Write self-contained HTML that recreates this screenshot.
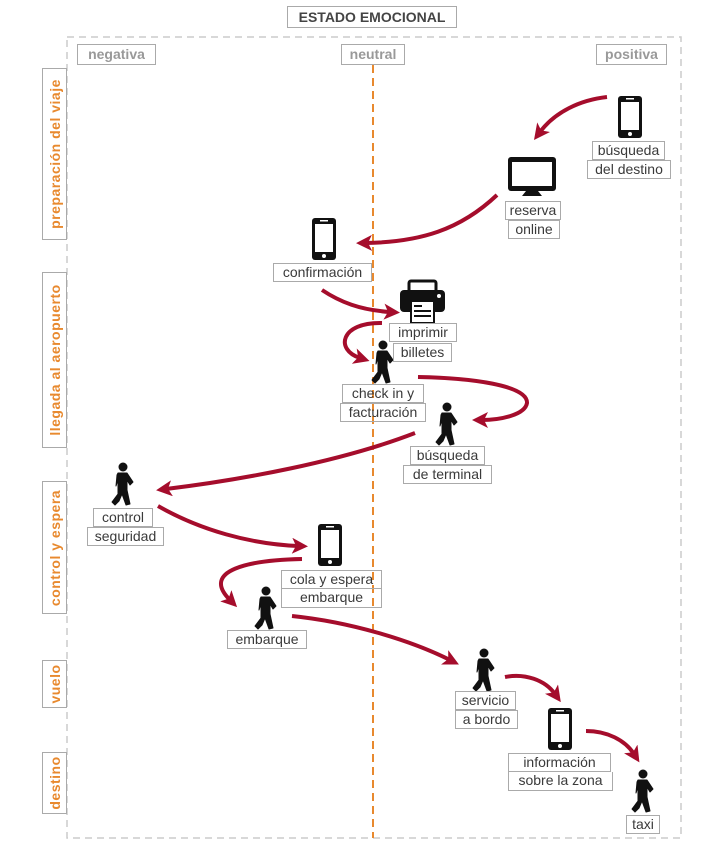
<!DOCTYPE html>
<html><head><meta charset="utf-8"><style>
body{margin:0;background:#fff;width:706px;height:847px;position:relative;overflow:hidden;font-family:"Liberation Sans",sans-serif}
.l{position:absolute;border:1px solid #aaa;color:#3a3a3a;font-size:14px;line-height:17px;text-align:center;white-space:nowrap;background:#fff;box-sizing:border-box;height:19px}
.h{position:absolute;border:1px solid #aaa;color:#999;font-weight:bold;font-size:14px;line-height:18px;text-align:center;box-sizing:border-box;height:21px}
.c{position:absolute;left:42px;width:25px;border:1px solid #aaa;box-sizing:border-box}
.c span{position:absolute;left:50%;top:50%;transform:translate(-50%,-50%) rotate(-90deg);color:#e8892e;font-weight:bold;font-size:14px;white-space:nowrap;letter-spacing:0.5px}
svg{position:absolute;left:0;top:0}
</style></head><body>
<svg width="706" height="847">
<defs>
<marker id="a" markerWidth="4" markerHeight="4" refX="1.5" refY="2" orient="auto" markerUnits="strokeWidth"><path d="M0,0 L4,2 L0,4 L1,2z" fill="#a50d2c"/></marker>
<g id="p"><circle cx="11" cy="4" r="4.5"/><path d="M6,10 L15,10 L21,19 L18,22 L15,17 L15,27 L18,41 L14,42 L10,31 L7,38 L3,42 L0,39 L6,31 L6,17 L4,23 L5,12z" stroke="#111" stroke-width="1" stroke-linejoin="round"/></g>
<g id="ph"><rect x="0" y="0" width="24" height="42" rx="3" fill="#111"/><rect x="3" y="6" width="18" height="28" fill="#fff"/><circle cx="12" cy="38" r="2" fill="#fff"/><rect x="8" y="2" width="8" height="1.5" fill="#fff"/></g>
</defs>
<rect x="67" y="37" width="614" height="801" fill="none" stroke="#ccc" stroke-width="1.5" stroke-dasharray="7,5"/>
<line x1="373" y1="65" x2="373" y2="838" stroke="#e8892e" stroke-width="2" stroke-dasharray="8,5"/>
<g fill="#111">
<use href="#ph" x="618" y="96"/>
<use href="#ph" x="312" y="218"/>
<use href="#ph" x="318" y="524"/>
<use href="#ph" x="548" y="708"/>
<rect x="508" y="157" width="48" height="34" rx="3"/><rect x="512" y="162" width="40" height="24" fill="#fff"/><path d="M526,191 L538,191 L542,196 L522,196z"/>
<rect x="409" y="281" width="27" height="12" rx="2" fill="none" stroke="#111" stroke-width="3"/>
<rect x="400" y="290" width="45" height="22" rx="4"/><rect x="411" y="301" width="23" height="22" fill="#fff" stroke="#111" stroke-width="2"/>
<rect x="414" y="305" width="8" height="2"/><rect x="414" y="310" width="17" height="2"/><rect x="414" y="315" width="17" height="2"/><circle cx="439" cy="296" r="2" fill="#fff"/>
<use href="#p" x="372" y="341"/>
<use href="#p" x="436" y="403"/>
<use href="#p" x="112" y="463"/>
<use href="#p" x="255" y="587"/>
<use href="#p" x="473" y="649"/>
<use href="#p" x="632" y="770"/>
</g>
<g fill="none" stroke="#a50d2c" stroke-width="4" marker-end="url(#a)">
<path d="M607,97 C580,100 555,112 540,132"/>
<path d="M497,195 C460,230 420,242 366,243"/>
<path d="M322,290 C340,302 360,310 390,312"/>
<path d="M382,323 C340,322 335,350 360,358"/>
<path d="M418,377 C470,378 528,385 527,403 C525,415 500,420 482,420"/>
<path d="M415,433 C340,462 240,480 166,489"/>
<path d="M158,506 C200,530 250,544 298,546"/>
<path d="M302,559 C250,560 200,570 230,600"/>
<path d="M292,616 C350,622 410,640 450,660"/>
<path d="M505,677 C525,673 545,680 555,694"/>
<path d="M586,731 C607,731 625,740 634,754"/>
</g>
</svg>
<div class="l" style="left:287px;top:6px;width:170px;height:22px;font-weight:bold;color:#444;line-height:20px">ESTADO EMOCIONAL</div>
<div class="h" style="left:77px;top:44px;width:79px">negativa</div>
<div class="h" style="left:341px;top:44px;width:64px">neutral</div>
<div class="h" style="left:596px;top:44px;width:71px">positiva</div>
<div class="c" style="top:68px;height:172px"><span>preparación del viaje</span></div>
<div class="c" style="top:272px;height:176px"><span>llegada al aeropuerto</span></div>
<div class="c" style="top:481px;height:133px"><span>control y espera</span></div>
<div class="c" style="top:660px;height:48px"><span>vuelo</span></div>
<div class="c" style="top:752px;height:62px"><span>destino</span></div>
<div class="l" style="left:592px;top:141px;width:73px">búsqueda</div>
<div class="l" style="left:587px;top:160px;width:84px">del destino</div>
<div class="l" style="left:505px;top:201px;width:56px">reserva</div>
<div class="l" style="left:508px;top:220px;width:52px">online</div>
<div class="l" style="left:273px;top:263px;width:99px">confirmación</div>
<div class="l" style="left:389px;top:323px;width:68px">imprimir</div>
<div class="l" style="left:393px;top:343px;width:59px">billetes</div>
<div class="l" style="left:342px;top:384px;width:82px;background:transparent">check in y</div>
<div class="l" style="left:340px;top:403px;width:86px;background:transparent">facturación</div>
<div class="l" style="left:410px;top:446px;width:75px">búsqueda</div>
<div class="l" style="left:403px;top:465px;width:89px">de terminal</div>
<div class="l" style="left:93px;top:508px;width:60px">control</div>
<div class="l" style="left:87px;top:527px;width:77px">seguridad</div>
<div class="l" style="left:281px;top:570px;width:101px;background:transparent">cola y espera</div>
<div class="l" style="left:281px;top:589px;width:101px;background:transparent;border-top:none">embarque</div>
<div class="l" style="left:227px;top:630px;width:80px">embarque</div>
<div class="l" style="left:455px;top:691px;width:61px">servicio</div>
<div class="l" style="left:455px;top:710px;width:63px">a bordo</div>
<div class="l" style="left:508px;top:753px;width:103px">información</div>
<div class="l" style="left:508px;top:772px;width:105px;border-top:none">sobre la zona</div>
<div class="l" style="left:626px;top:815px;width:34px">taxi</div>
</body></html>
